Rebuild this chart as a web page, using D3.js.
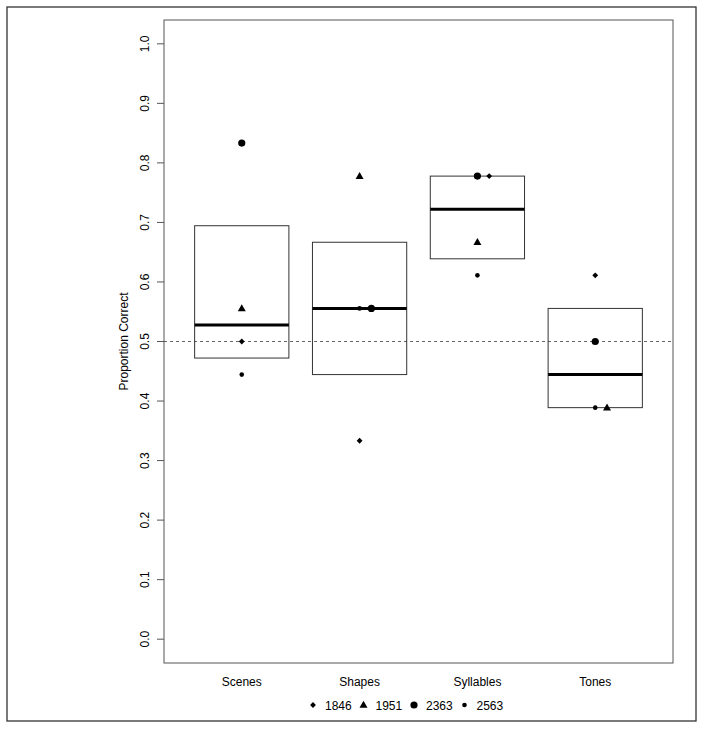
<!DOCTYPE html>
<head>
    <meta charset="utf-8">
    <script src="https://d3js.org/d3.v7.min.js"></script>
    <style>
        body { margin: 0; background: #fff; }
        text { font-family: "Liberation Sans", Arial, sans-serif; fill: #000; }
    </style>
</head>
<body>
    <svg width="704" height="730"></svg>
    <script>
        // proportion correct per task, one array per participant
        var categories = ["Scenes", "Shapes", "Syllables", "Tones"];
        var ids = ["1846", "1951", "2363", "2563"];
        var p1846 = [0.5, 0.3333, 0.7778, 0.6111];
        var p1951 = [0.5556, 0.7778, 0.6667, 0.3889];
        var p2363 = [0.8333, 0.5556, 0.7778, 0.5];
        var p2563 = [0.4444, 0.5556, 0.6111, 0.3889];
        var yTicks = [0, 0.1, 0.2, 0.3, 0.4, 0.5, 0.6, 0.7, 0.8, 0.9, 1.0];
        var chance = 0.5;

        var series = [p1846, p1951, p2363, p2563];
        var shapes = ["diamond", "triangle", "bigcircle", "dot"];

        var svg = d3.select("svg");
        var pLeft = 164, pRight = 673, pTop = 20, pBottom = 663;

        var x = d3.scaleLinear().domain([0.34, 4.66]).range([pLeft, pRight]);
        var y = d3.scaleLinear().domain([-0.04, 1.04]).range([pBottom, pTop]);

        // outer frame
        svg.append("rect")
            .attr("x", 7).attr("y", 7).attr("width", 689).attr("height", 714)
            .attr("fill", "none").attr("stroke", "#333").attr("stroke-width", 1.3);

        // tukey hinges like R's fivenum
        function fivenum(v) {
            var s = v.slice().sort(d3.ascending), n = s.length;
            var n4 = Math.floor((n + 3) / 2) / 2;
            var d = [1, n4, (n + 1) / 2, n + 1 - n4, n];
            return d.map(k => 0.5 * (s[Math.floor(k) - 1] + s[Math.ceil(k) - 1]));
        }

        // chance line
        svg.append("line")
            .attr("x1", pLeft).attr("x2", pRight)
            .attr("y1", y(chance)).attr("y2", y(chance))
            .attr("stroke", "#666").attr("stroke-width", 1)
            .attr("stroke-dasharray", "3,3");

        // boxes
        categories.forEach(function (c, i) {
            var vals = series.map(s => s[i]);
            var f = fivenum(vals);
            var g = svg.append("g");
            g.append("rect")
                .attr("x", x(i + 0.6)).attr("width", x(i + 1.4) - x(i + 0.6))
                .attr("y", y(f[3])).attr("height", y(f[1]) - y(f[3]))
                .attr("fill", "none").attr("stroke", "#333").attr("stroke-width", 1);
            g.append("line")
                .attr("x1", x(i + 0.6)).attr("x2", x(i + 1.4))
                .attr("y1", y(f[2])).attr("y2", y(f[2]))
                .attr("stroke", "#000").attr("stroke-width", 3);
        });

        function symbol(g, kind, cx, cy) {
            if (kind === "diamond") {
                g.append("path").attr("d", "M0,-2.9L2.9,0L0,2.9L-2.9,0Z")
                    .attr("transform", "translate(" + cx + "," + cy + ")");
            } else if (kind === "triangle") {
                g.append("path").attr("d", "M0,-4.2L4,2.8L-4,2.8Z")
                    .attr("transform", "translate(" + cx + "," + cy + ")");
            } else if (kind === "bigcircle") {
                g.append("circle").attr("cx", cx).attr("cy", cy).attr("r", 3.6);
            } else {
                g.append("circle").attr("cx", cx).attr("cy", cy).attr("r", 2.3);
            }
        }

        // points; a value shared with a later participant is nudged right
        var pts = svg.append("g").attr("fill", "#000");
        series.forEach(function (s, k) {
            s.forEach(function (v, i) {
                var dup = series.slice(k + 1).filter(o => o[i] === v).length;
                symbol(pts, shapes[k], x(i + 1 + 0.1 * dup), y(v));
            });
        });

        // plot box
        svg.append("rect")
            .attr("x", pLeft).attr("y", pTop).attr("width", pRight - pLeft).attr("height", pBottom - pTop)
            .attr("fill", "none").attr("stroke", "#555").attr("stroke-width", 1);

        // y axis
        var ya = svg.append("g");
        yTicks.forEach(function (t) {
            ya.append("line").attr("x1", pLeft - 7).attr("x2", pLeft)
                .attr("y1", y(t)).attr("y2", y(t)).attr("stroke", "#555");
            ya.append("text")
                .attr("transform", "translate(" + (pLeft - 15) + "," + y(t) + ") rotate(-90)")
                .attr("text-anchor", "middle")
                .style("font-size", "12px")
                .text(t.toFixed(1));
        });
        svg.append("text")
            .attr("transform", "translate(128," + y(0.5) + ") rotate(-90)")
            .attr("text-anchor", "middle")
            .style("font-size", "12px")
            .text("Proportion Correct");

        // category labels
        categories.forEach(function (c, i) {
            svg.append("text")
                .attr("x", x(i + 1)).attr("y", 686)
                .attr("text-anchor", "middle")
                .style("font-size", "12px")
                .text(c);
        });

        // legend
        var lg = svg.append("g").attr("fill", "#000");
        ids.forEach(function (id, k) {
            var lx = 313 + k * 50.5;
            symbol(lg, shapes[k], lx, 705);
            lg.append("text").attr("x", lx + 12).attr("y", 709.5)
                .style("font-size", "12px").text(id);
        });
    </script>
</body>
